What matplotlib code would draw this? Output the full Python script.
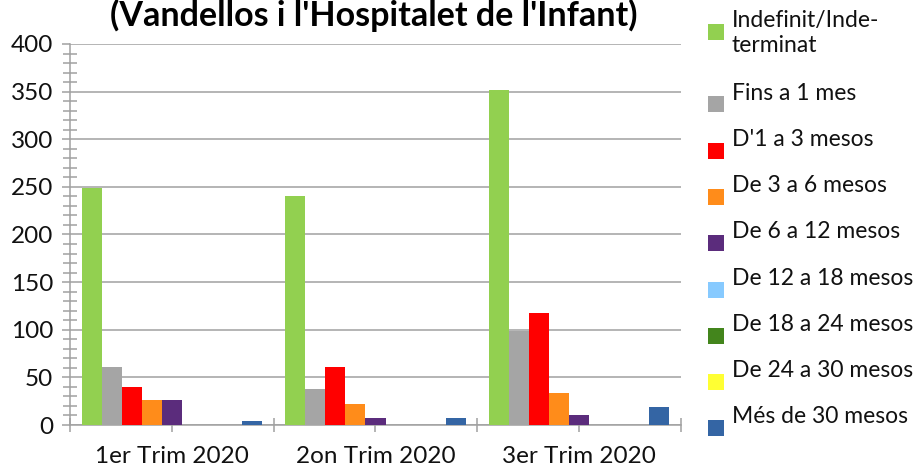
import matplotlib
matplotlib.use('Agg')
import matplotlib.pyplot as plt
from matplotlib.patches import Rectangle
from matplotlib.ticker import MultipleLocator, FixedLocator

plt.rcParams['font.family'] = ['Lato', 'DejaVu Sans']

title = "(Vandellos i l'Hospitalet de l'Infant)"
quarters = ['1er Trim 2020', '2on Trim 2020', '3er Trim 2020']
durations = ['Indefinit/Inde-\nterminat', 'Fins a 1 mes', "D'1 a 3 mesos",
             'De 3 a 6 mesos', 'De 6 a 12 mesos', 'De 12 a 18 mesos',
             'De 18 a 24 mesos', 'De 24 a 30 mesos', 'Més de 30 mesos']
colors = ['#92D050', '#A5A5A5', '#FF0000', '#FF8C1A', '#5B2C7C',
          '#87CAFF', '#43851C', '#FFFF33', '#3465A4']

indefinit = [249, 240, 352]
fins_1_mes = [61, 38, 99]
de_1_a_3 = [40, 61, 118]
de_3_a_6 = [26, 22, 34]
de_6_a_12 = [26, 7, 11]
de_12_a_18 = [0, 0, 0]
de_18_a_24 = [0, 0, 0]
de_24_a_30 = [0, 0, 0]
mes_de_30 = [4, 7, 19]
series = [indefinit, fins_1_mes, de_1_a_3, de_3_a_6, de_6_a_12,
          de_12_a_18, de_18_a_24, de_24_a_30, mes_de_30]

W, H = 920, 469
fig = plt.figure(figsize=(W / 100, H / 100), dpi=100)
ax = fig.add_axes([70 / W, 1 - 425 / H, 611 / W, 381 / H])

axis_col = '#A0A0A0'
bw = 0.0982
n = len(series)
for i, vals in enumerate(series):
    xs = [g + (i - (n - 1) / 2) * bw for g in range(len(quarters))]
    ax.bar(xs, vals, width=bw, color=colors[i], linewidth=0, zorder=3)

ax.set_xlim(-0.5, len(quarters) - 0.5)
ax.set_ylim(0, 400)
ax.yaxis.set_major_locator(MultipleLocator(50))
ax.yaxis.set_minor_locator(MultipleLocator(10))
ax.set_xticks(range(len(quarters)))
ax.set_xticklabels(quarters)
ax.xaxis.set_minor_locator(FixedLocator([g - 0.5 for g in range(len(quarters) + 1)]))

ax.grid(axis='y', which='major', color=axis_col, linewidth=1.1, zorder=1)
ax.set_axisbelow(True)
for s in ['top', 'right']:
    ax.spines[s].set_visible(False)
for s in ['left', 'bottom']:
    ax.spines[s].set_color(axis_col)
    ax.spines[s].set_linewidth(1.1)

ax.tick_params(axis='y', which='major', direction='out', length=6, width=1.1,
               color=axis_col, labelsize=17.5, pad=6, labelcolor='#111111')
ax.tick_params(axis='y', which='minor', direction='inout', length=10, width=1.1,
               color=axis_col)
ax.tick_params(axis='x', which='both', direction='inout', length=10, width=1.1,
               color=axis_col, labelsize=17.5, pad=10, labelcolor='#111111')

fig.text(374 / W, 1 - 26 / H, title, ha='center', va='baseline',
         fontsize=24.5, fontweight='bold', color='#000000')

# legend drawn by hand
first_c = 32
step = 46.25
for i, (lab, col) in enumerate(zip(durations, colors)):
    cy = first_c if i == 0 else 104.5 + (i - 1) * step
    fig.add_artist(Rectangle((708 / W, 1 - (cy + 8) / H), 16 / W, 16 / H,
                             transform=fig.transFigure, facecolor=col,
                             edgecolor='none'))
    base = cy - 5
    for k, line in enumerate(lab.split('\n')):
        fig.text(732 / W, 1 - (base + k * 25) / H, line, ha='left',
                 va='baseline', fontsize=16.5, color='#111111')

fig.savefig('out.png', dpi=100)
